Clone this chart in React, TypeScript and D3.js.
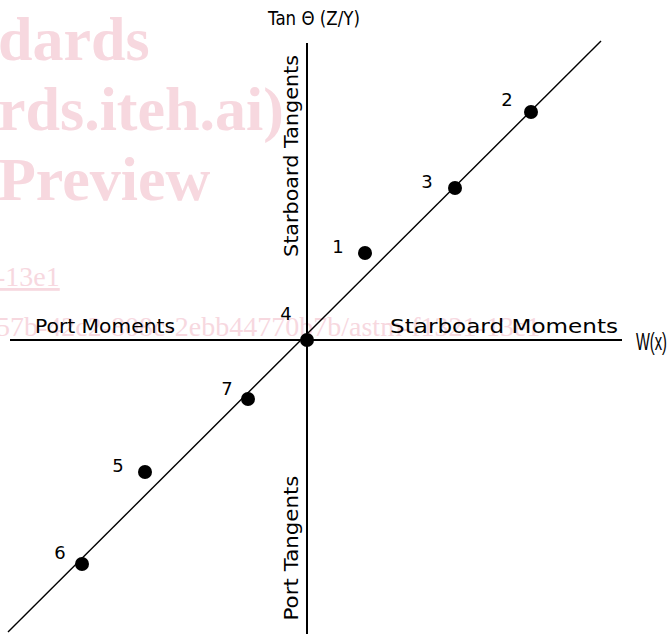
import * as d3 from "d3";

// readings in plot units (origin = axis crossing)
const pointIds = ["1", "2", "3", "4", "5", "6", "7"];
const pointX = [0.58, 2.24, 1.48, 0, -1.62, -2.25, -0.59];
const pointY = [0.87, 2.28, 1.52, 0, -1.32, -2.24, -0.59];

// fitted line end points
const lineX = [-2.99, 2.94];
const lineY = [-2.92, 2.99];

const xLabel = "W(x)";
const yLabel = "Tan \u0398 (Z/Y)";
const quadrantLabels = ["Starboard Tangents", "Port Tangents", "Port Moments", "Starboard Moments"];

const watermarkBig = ["dards", "rds.iteh.ai)", "Preview"];
const watermarkSmall = ["-13e1", "57b-42c2-808c-2ebb44770b7b/astm-f1321-13e1"];

const W = 669;
const H = 634;
const FONT = "'DejaVu Sans', sans-serif";

// label offsets from each dot, in px
const labelDx: Record<string, number> = { "1": -27, "2": -24, "3": -28, "4": -21, "5": -27, "6": -22, "7": -21 };
const labelDy: Record<string, number> = { "1": 0, "2": -6, "3": 0, "4": -20, "5": 0, "6": -5, "7": -4 };

export default function App() {
  const x = d3.scaleLinear().domain([-2.97, 3.15]).range([10, 622]);
  const y = d3.scaleLinear().domain([-2.94, 2.97]).range([634, 43]);

  const points = pointIds.map((id, i) => ({ id, x: pointX[i], y: pointY[i] }));
  const fit = lineX.map((v, i) => [v, lineY[i]] as [number, number]);
  const line = d3.line<[number, number]>().x((d) => x(d[0])).y((d) => y(d[1]));

  const x0 = x(0);
  const y0 = y(0);

  return (
    <svg
      width={W}
      height={H}
      style={{ position: "absolute", left: 0, top: 0, background: "#fff" }}
      fontFamily={FONT}
    >
      {/* watermark */}
      <g fill="#f7d8df">
        {watermarkBig.map((t, i) => (
          <text key={t} x={-2} y={60 + i * 70} fontFamily="'Liberation Serif', serif" fontWeight="bold" fontSize={62}>
            {t}
          </text>
        ))}
        <text x={-4} y={286} fontFamily="'Liberation Serif', serif" fontSize={28} textDecoration="underline">
          {watermarkSmall[0]}
        </text>
        <text x={-4} y={336} fontFamily="'Liberation Serif', serif" fontSize={28}>
          {watermarkSmall[1]}
        </text>
      </g>

      {/* axes */}
      <line x1={x(-2.97)} x2={x(3.15)} y1={y0} y2={y0} stroke="#000" strokeWidth={2} />
      <line x1={x0} x2={x0} y1={y(2.97)} y2={y(-2.94)} stroke="#000" strokeWidth={2} />

      {/* fit line */}
      <path d={line(fit) ?? ""} fill="none" stroke="#000" strokeWidth={1.4} />

      {/* axis titles */}
      <text x={x0 + 7} y={25} textAnchor="middle" fontSize={19} textLength={92} lengthAdjust="spacingAndGlyphs">
        {yLabel}
      </text>
      <text
        x={636}
        y={350}
        fontFamily="'Liberation Sans', sans-serif"
        fontSize={23}
        textLength={31}
        lengthAdjust="spacingAndGlyphs"
      >
        {xLabel}
      </text>

      <text
        transform={`translate(${x0 - 9},${156}) rotate(-90)`}
        textAnchor="middle"
        fontSize={19}
        textLength={202}
        lengthAdjust="spacingAndGlyphs"
      >
        {quadrantLabels[0]}
      </text>
      <text
        transform={`translate(${x0 - 9},${548}) rotate(-90)`}
        textAnchor="middle"
        fontSize={19}
        textLength={145}
        lengthAdjust="spacingAndGlyphs"
      >
        {quadrantLabels[1]}
      </text>
      <text x={35} y={333} fontSize={19} textLength={140} lengthAdjust="spacingAndGlyphs">{quadrantLabels[2]}</text>
      <text x={390} y={333} fontSize={19} textLength={228} lengthAdjust="spacingAndGlyphs">{quadrantLabels[3]}</text>

      {/* points */}
      {points.map((p) => (
        <g key={p.id}>
          <circle cx={x(p.x)} cy={y(p.y)} r={7} fill="#000" />
          <text x={x(p.x) + labelDx[p.id]} y={y(p.y) + labelDy[p.id]} textAnchor="middle" fontSize={18}>
            {p.id}
          </text>
        </g>
      ))}
    </svg>
  );
}
